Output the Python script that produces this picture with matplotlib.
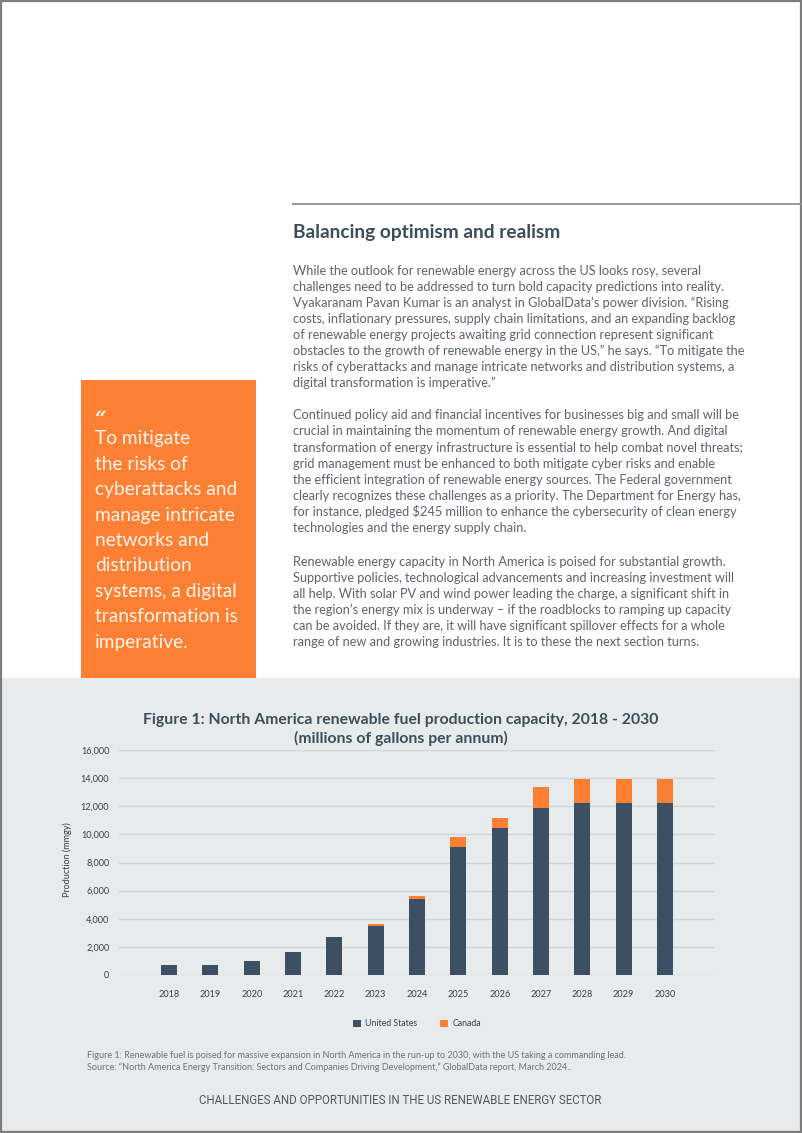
import matplotlib
matplotlib.use("Agg")
import matplotlib.pyplot as plt
from matplotlib.patches import Rectangle
from matplotlib.lines import Line2D
from matplotlib import font_manager
from matplotlib.ticker import FuncFormatter
import numpy as np

# ---------------- data ----------------
years = ["2018", "2019", "2020", "2021", "2022", "2023", "2024",
         "2025", "2026", "2027", "2028", "2029", "2030"]
us_values = [730, 730, 1000, 1650, 2700, 3500, 5430, 9070, 10450, 11850, 12200, 12200, 12200]
canada_values = [0, 0, 0, 0, 0, 150, 220, 770, 730, 1530, 1730, 1730, 1730]
series_names = ["United States", "Canada"]
y_ticks = [0, 2000, 4000, 6000, 8000, 10000, 12000, 14000, 16000]

chart_title = ["Figure 1: North America renewable fuel production capacity, 2018 - 2030",
               "(millions of gallons per annum)"]
y_label = "Production (mmgy)"
caption_lines = [
    "Figure 1: Renewable fuel is poised for massive expansion in North America in the run-up to 2030, with the US taking a commanding lead.",
    "Source: \u201cNorth America Energy Transition: Sectors and Companies Driving Development,\u201d GlobalData report, March 2024..",
]
footer = "CHALLENGES AND OPPORTUNITIES IN THE US RENEWABLE ENERGY SECTOR"
heading = "Balancing optimism and realism"
para1 = [
    "While the outlook for renewable energy across the US looks rosy, several",
    "challenges need to be addressed to turn bold capacity predictions into reality.",
    "Vyakaranam Pavan Kumar is an analyst in GlobalData\u2019s power division. \u201cRising",
    "costs, inflationary pressures, supply chain limitations, and an expanding backlog",
    "of renewable energy projects awaiting grid connection represent significant",
    "obstacles to the growth of renewable energy in the US,\u201d he says. \u201cTo mitigate the",
    "risks of cyberattacks and manage intricate networks and distribution systems, a",
    "digital transformation is imperative.\u201d",
]
para2 = [
    "Continued policy aid and financial incentives for businesses big and small will be",
    "crucial in maintaining the momentum of renewable energy growth. And digital",
    "transformation of energy infrastructure is essential to help combat novel threats;",
    "grid management must be enhanced to both mitigate cyber risks and enable",
    "the efficient integration of renewable energy sources. The Federal government",
    "clearly recognizes these challenges as a priority. The Department for Energy has,",
    "for instance, pledged $245 million to enhance the cybersecurity of clean energy",
    "technologies and the energy supply chain.",
]
para3 = [
    "Renewable energy capacity in North America is poised for substantial growth.",
    "Supportive policies, technological advancements and increasing investment will",
    "all help. With solar PV and wind power leading the charge, a significant shift in",
    "the region\u2019s energy mix is underway \u2013 if the roadblocks to ramping up capacity",
    "can be avoided. If they are, it will have significant spillover effects for a whole",
    "range of new and growing industries. It is to these the next section turns.",
]
quote_mark = "\u201c"
quote_lines = ["To mitigate", "the risks of", "cyberattacks and", "manage intricate",
               "networks and", "distribution", "systems, a digital",
               "transformation is", "imperative."]

# ---------------- style ----------------
W, H = 802, 1133
NAVY = "#3d5063"
ORANGE = "#fc7f33"
BOX_ORANGE = "#fd8034"
BAND = "#e8ebeb"
DARK = "#3c4d5c"
BODY = "#5d646b"
FONT = "Lato"

available = {f.name for f in font_manager.fontManager.ttflist}
NARROW = "Liberation Sans Narrow" if "Liberation Sans Narrow" in available else "Roboto"

fig = plt.figure(figsize=(W / 100, H / 100), dpi=100)
fig.patch.set_facecolor("white")
renderer = fig.canvas.get_renderer()


def fx(x):
    return x / W


def fy(y):
    return 1 - y / H


def fit(text, target_px, **kw):
    t = fig.text(0, 0, text, fontsize=10, **kw)
    w = t.get_window_extent(renderer).width
    t.remove()
    return 10 * target_px / w


def prect(x0, y0, x1, y1, color):
    fig.patches.append(Rectangle((fx(x0), fy(y1)), fx(x1) - fx(x0), fy(y0) - fy(y1),
                                 transform=fig.transFigure, facecolor=color,
                                 edgecolor="none", zorder=-5))


# backgrounds
prect(0, 678, W, H, BAND)
prect(81, 380, 256, 678, BOX_ORANGE)

# borders
for (xa, ya, xb, yb) in [(1, 0, 1, H), (0, 1, W, 1), (W - 1.5, 0, W - 1.5, H), (0, H - 1.5, W, H - 1.5)]:
    fig.lines.append(Line2D([fx(xa), fx(xb)], [fy(ya), fy(yb)], transform=fig.transFigure,
                            color="#7d7d7d", lw=1.6, zorder=5))
fig.lines.append(Line2D([fx(293), fx(W)], [fy(204), fy(204)], transform=fig.transFigure,
                        color="#8b9094", lw=1.3, zorder=5))

# heading and body
fs_head = fit(heading, 268, family=FONT, weight="bold")
fig.text(fx(293), fy(237.7), heading, fontsize=fs_head, family=FONT, weight="bold",
         color=DARK, va="baseline", ha="left")
fs_body = fit(para1[3], 445, family=FONT)
for paragraph, y0, dy in [(para1, 275.3, 16.0), (para2, 419.3, 16.1), (para3, 565.7, 16.1)]:
    for i, line in enumerate(paragraph):
        fig.text(fx(293), fy(y0 + dy * i), line, fontsize=fs_body, family=FONT,
                 color=BODY, va="baseline", ha="left")

# quote box
fs_quote = fit(quote_lines[3], 140, family=FONT)
fig.text(fx(94), fy(425), quote_mark, fontsize=14.5, family="DejaVu Serif",
         style="italic", weight="bold", color="#fff4ea", va="baseline", ha="left")
for i, line in enumerate(quote_lines):
    fig.text(fx(94.7), fy(444 + 25.5 * i), line, fontsize=fs_quote, family=FONT,
             color="#fff4ea", va="baseline", ha="left")

# chart title
fs_title = fit(chart_title[0], 514, family=FONT, weight="bold")
for i, line in enumerate(chart_title):
    fig.text(fx(400.5), fy(724 + 18.5 * i), line, fontsize=fs_title, family=FONT,
             weight="bold", color=DARK, va="baseline", ha="center")

# ---------------- chart ----------------
ax = fig.add_axes([fx(119), fy(975), fx(715) - fx(119), fy(750) - fy(975)])
ax.set_zorder(2)
ax.set_facecolor("none")
x = np.arange(len(years))
bw = 0.38
b1 = ax.bar(x, us_values, bw, color=NAVY, label=series_names[0], zorder=3)
b2 = ax.bar(x, canada_values, bw, bottom=us_values, color=ORANGE, label=series_names[1], zorder=3)
ax.set_xlim(-1.21, 13.21)
ax.set_ylim(0, 16000)
ax.set_yticks(y_ticks)
ax.yaxis.set_major_formatter(FuncFormatter(lambda v, p: f"{int(v):,}"))
ax.set_xticks(x)
ax.set_xticklabels(years)
ax.grid(axis="y", color="#d3d6d8", lw=1.0, zorder=0)
ax.set_axisbelow(True)
for s in ax.spines.values():
    s.set_visible(False)
fs_tick = fit("16,000", 28.5, family=FONT)
ax.tick_params(axis="both", length=0, labelsize=fs_tick, labelcolor="#3a3f44")
ax.tick_params(axis="y", pad=7)
ax.tick_params(axis="x", pad=11)
for lab in ax.get_xticklabels() + ax.get_yticklabels():
    lab.set_family(FONT)

fs_ylab = fit(y_label, 75, family=FONT)
fig.text(fx(67), fy(860), y_label, rotation=90, fontsize=fs_ylab, family=FONT,
         color="#3a3f44", va="center", ha="center")

# legend
fs_leg = fit(series_names[0], 52.5, family=FONT)
px = 0.72
leg = fig.legend(handles=[b1, b2], labels=series_names, loc="center",
                 bbox_to_anchor=(fx(417), fy(1024)), ncol=2, frameon=False,
                 handlelength=8 * px / fs_leg, handleheight=8 * px / fs_leg,
                 handletextpad=4 * px / fs_leg, columnspacing=23 * px / fs_leg,
                 prop={"family": FONT, "size": fs_leg})
for t in leg.get_texts():
    t.set_color("#3a3f44")

# caption
fs_cap = fit(caption_lines[0], 537, family=FONT)
for i, line in enumerate(caption_lines):
    fig.text(fx(87), fy(1057.5 + 12.5 * i), line, fontsize=fs_cap, family=FONT,
             color="#6a7178", va="baseline", ha="left")

# footer
fs_foot = fit(footer, 401, family=NARROW)
fig.text(fx(400.5), fy(1103.8), footer, fontsize=fs_foot, family=NARROW,
         color="#4d5864", va="baseline", ha="center")

fig.savefig("out.png", dpi=100, facecolor=fig.get_facecolor())
